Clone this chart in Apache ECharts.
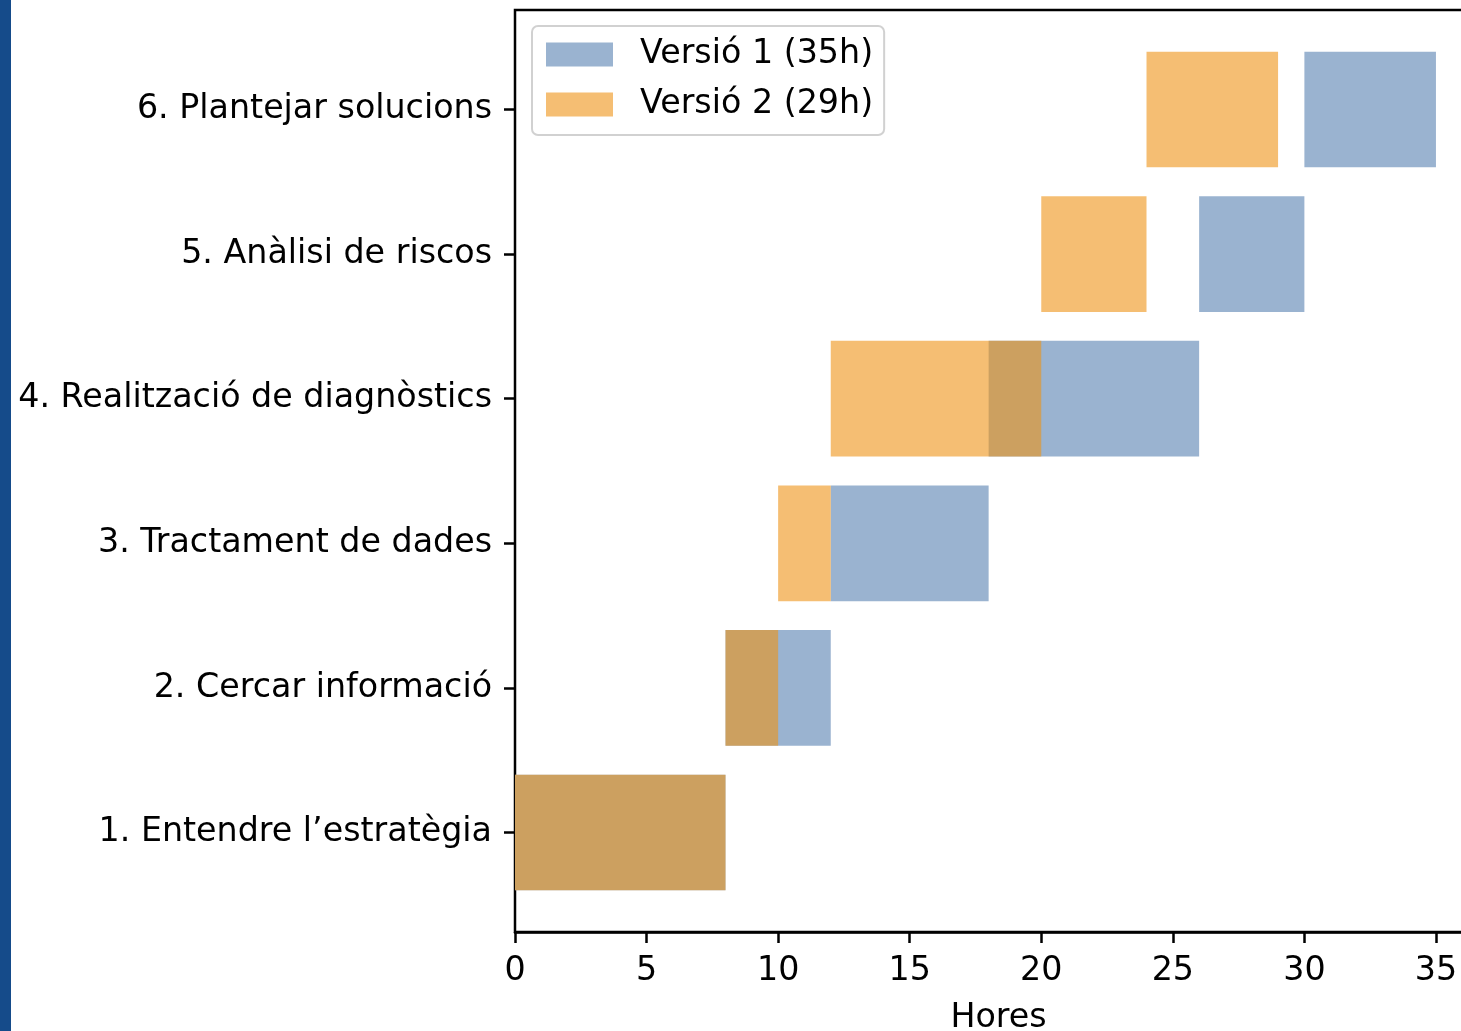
<!DOCTYPE html>
<html>
<head>
<meta charset="utf-8">
<script src="https://cdn.jsdelivr.net/npm/echarts@6/dist/echarts.min.js"></script>
<style>
  html, body { margin: 0; padding: 0; background: #fff; overflow: hidden; }
  /* wider than the window: the right spine falls outside, as in the reference */
  #chart { width: 1500px; height: 1031px; }
</style>
</head>
<body>
<div id="chart"></div>
<script>
// tasks, bottom to top
var tasks = [
  '1. Entendre l\u2019estrat\u00e8gia',
  '2. Cercar informaci\u00f3',
  '3. Tractament de dades',
  '4. Realitzaci\u00f3 de diagn\u00f2stics',
  '5. An\u00e0lisi de riscos',
  '6. Plantejar solucions'
];
// start / end hours of each task
var v1Start = [0, 8, 12, 18, 26, 30];
var v1End   = [8, 12, 18, 26, 30, 35];
var v2Start = [0, 8, 10, 12, 20, 24];
var v2End   = [8, 10, 12, 20, 24, 29];
var seriesNames = ['Versi\u00f3 1 (35h)', 'Versi\u00f3 2 (29h)'];
var xTicks = [0, 5, 10, 15, 20, 25, 30, 35];

function durations(start, end) {
  var out = [];
  for (var i = 0; i < start.length; i++) {
    out.push(end[i] - start[i]);
  }
  return out;
}

var font = 'DejaVu Sans';
var xMax = 36.75;

var chart = echarts.init(document.getElementById('chart'));

var option = {
  animation: false,
  backgroundColor: '#fff',
  textStyle: { fontFamily: font },
  graphic: [
    { type: 'rect', left: 0, top: 0, shape: { width: 11, height: 1031 }, style: { fill: '#154b8a' }, z: 100 }
  ],
  grid: [
    // frame + x axis
    { left: 515, top: 10, width: 967, height: 922, outerBoundsMode: 'none',
      show: true, borderColor: '#000', borderWidth: 2.5, backgroundColor: 'transparent' },
    // bars + category labels
    { left: 515, top: 37.2, width: 967, height: 867.6, outerBoundsMode: 'none' }
  ],
  xAxis: [
    {
      gridIndex: 0, type: 'value', min: 0, max: xMax, interval: 5,
      axisLine: { show: true, lineStyle: { color: '#000', width: 2.5 } },
      axisTick: { show: true, length: 11, lineStyle: { color: '#000', width: 2.5 } },
      axisLabel: {
        fontSize: 33.3, color: '#000', fontFamily: font, margin: 23,
        showMaxLabel: false,
        formatter: function (v) { return xTicks.indexOf(v) >= 0 ? String(v) : ''; }
      },
      splitLine: { show: false },
      name: 'Hores', nameLocation: 'middle', nameGap: 70,
      nameTextStyle: { fontSize: 33.3, color: '#000', fontFamily: font }
    },
    { gridIndex: 1, type: 'value', min: 0, max: xMax, show: false }
  ],
  yAxis: [
    { gridIndex: 0, type: 'value', show: false, min: 0, max: 1 },
    {
      gridIndex: 1, type: 'category', data: tasks,
      axisLine: { show: false },
      axisTick: { show: true, alignWithLabel: true, length: 11, lineStyle: { color: '#000', width: 2.5 } },
      axisLabel: { fontSize: 33.3, color: '#000', fontFamily: font, margin: 23, padding: [10, 0, 0, 0] },
      splitLine: { show: false }
    }
  ],
  legend: {
    data: seriesNames,
    orient: 'vertical',
    left: 532, top: 26,
    itemWidth: 67, itemHeight: 24, itemGap: 17,
    icon: 'rect',
    selectedMode: false,
    padding: [12, 11, 14, 14],
    borderColor: 'rgba(204,204,204,0.9)', borderWidth: 2, borderRadius: 6,
    backgroundColor: 'rgba(255,255,255,0.8)',
    textStyle: { fontSize: 33.3, color: '#000', fontFamily: font, padding: [0, 0, 0, 22] }
  },
  series: [
    {
      type: 'bar', name: 'v1base', xAxisIndex: 1, yAxisIndex: 1, stack: 'v1',
      data: v1Start, barWidth: '80%', barGap: '-100%', silent: true,
      itemStyle: { color: 'transparent' }
    },
    {
      type: 'bar', name: seriesNames[0], xAxisIndex: 1, yAxisIndex: 1, stack: 'v1',
      data: durations(v1Start, v1End), barWidth: '80%', barGap: '-100%',
      itemStyle: { color: '#9ab3d0' }
    },
    {
      type: 'bar', name: 'v2base', xAxisIndex: 1, yAxisIndex: 1, stack: 'v2',
      data: v2Start, barWidth: '80%', barGap: '-100%', silent: true,
      itemStyle: { color: 'transparent' }
    },
    {
      type: 'bar', name: seriesNames[1], xAxisIndex: 1, yAxisIndex: 1, stack: 'v2',
      data: durations(v2Start, v2End), barWidth: '80%', barGap: '-100%',
      itemStyle: { color: 'rgba(238,147,22,0.6)' }
    }
  ]
};

chart.setOption(option);
</script>
</body>
</html>
